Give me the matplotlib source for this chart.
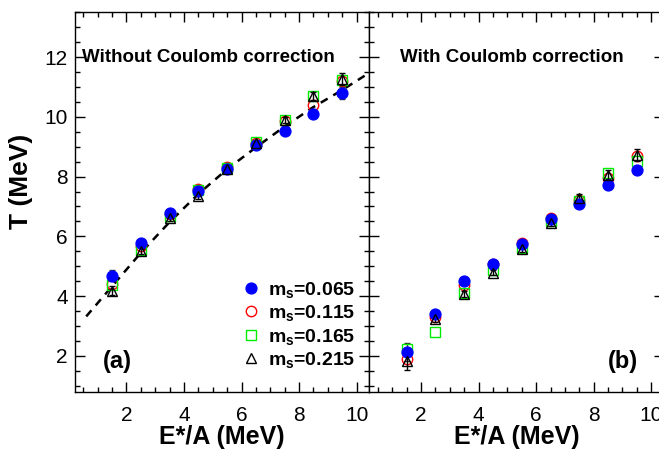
import numpy as np
import matplotlib
matplotlib.use('Agg')
import matplotlib.pyplot as plt
from matplotlib.ticker import MultipleLocator
from matplotlib.lines import Line2D

plt.rcParams['font.family'] = ['Liberation Sans', 'DejaVu Sans']
plt.rcParams['mathtext.fontset'] = 'custom'
plt.rcParams['mathtext.rm'] = 'Liberation Sans'
plt.rcParams['mathtext.bf'] = 'Liberation Sans:bold'

# excitation energy bins
ex = [1.5, 2.5, 3.5, 4.5, 5.5, 6.5, 7.5, 8.5, 9.5]
ms_labels = ['0.065', '0.115', '0.165', '0.215']

# (a) without Coulomb correction
t_a_065 = [4.68, 5.79, 6.79, 7.53, 8.25, 9.07, 9.51, 10.10, 10.79]
t_a_115 = [4.40, 5.68, 6.76, 7.57, 8.33, 9.12, 9.85, 10.40, 11.20]
t_a_165 = [4.37, 5.54, 6.68, 7.54, 8.30, 9.15, 9.90, 10.70, 11.23]
t_a_215 = [4.18, 5.51, 6.62, 7.34, 8.27, 9.13, 9.90, 10.70, 11.26]
err_a_065 = [0.18, 0.10, 0.10, 0.10, 0.10, 0.10, 0.10, 0.15, 0.20]
err_a_215 = [0.15, 0.10, 0.10, 0.10, 0.10, 0.10, 0.10, 0.12, 0.20]

# dashed curve in (a)
fit_x = [0.6, 1.5, 2.5, 3.5, 4.5, 5.5, 6.5, 7.5, 8.5, 9.5, 10.35]
fit_y = [3.32, 4.33, 5.45, 6.48, 7.42, 8.25, 8.98, 9.68, 10.33, 10.90, 11.42]

# (b) with Coulomb correction
t_b_065 = [2.12, 3.40, 4.51, 5.07, 5.73, 6.57, 7.07, 7.73, 8.23]
t_b_115 = [1.90, 3.29, 4.37, 5.07, 5.77, 6.60, 7.21, 7.96, 8.68]
t_b_165 = [2.23, 2.81, 4.12, 4.88, 5.62, 6.50, 7.20, 8.12, 8.51]
t_b_215 = [1.84, 3.23, 4.07, 4.79, 5.57, 6.46, 7.29, 8.07, 8.73]
err_b_065 = [0.30, 0.10, 0.10, 0.10, 0.10, 0.10, 0.10, 0.12, 0.12]
err_b_215 = [0.30, 0.10, 0.10, 0.10, 0.10, 0.10, 0.12, 0.15, 0.20]

W, H = 659, 453
fig = plt.figure(figsize=(6.59, 4.53), dpi=100)
x0, x1, yb, yt = 74.7, 369.3, 391.7, 12.3
pw = x1 - x0
axa = fig.add_axes([x0/W, 1-yb/H, pw/W, (yb-yt)/H])
axb = fig.add_axes([x1/W, 1-yb/H, pw/W, (yb-yt)/H])

def style(ax):
    ax.set_xlim(0.2, 10.44)
    ax.set_ylim(0.8, 13.5)
    ax.xaxis.set_major_locator(MultipleLocator(2))
    ax.xaxis.set_minor_locator(MultipleLocator(0.5))
    ax.yaxis.set_major_locator(MultipleLocator(2))
    ax.yaxis.set_minor_locator(MultipleLocator(0.5))
    ax.tick_params(which='both', direction='in', top=True, right=True, width=1)
    ax.tick_params(which='major', length=7.2, labelsize=15)
    ax.tick_params(axis='x', which='major', pad=10)
    ax.tick_params(axis='y', which='major', pad=5)
    ax.tick_params(which='minor', length=3.6)
    for s in ax.spines.values():
        s.set_linewidth(1)
    ax.set_xlabel('E*/A (MeV)', fontsize=18, fontweight='bold', labelpad=0)

def draw(ax, t1, t2, t3, t4, e1, e4):
    ax.errorbar(ex, t1, yerr=e1, fmt='o', color='#0000ff', ms=7.8, ecolor='#333333',
                elinewidth=1, capsize=2.5)
    ax.plot(ex, t2, 'o', mfc='none', mec='#ff0000', ms=7.5, mew=1)
    ax.plot(ex, t3, 's', mfc='none', mec='#00ee00', ms=7.2, mew=1)
    ax.errorbar(ex, t4, yerr=e4, fmt='^', mfc='none', mec='black', ms=7.5, mew=1,
                ecolor='black', elinewidth=1, capsize=2.5)

style(axa)
style(axb)
axb.set_yticklabels([])

axa.plot(fit_x, fit_y, color='black', lw=1.8, dashes=(3.2, 2.6), zorder=1)
draw(axa, t_a_065, t_a_115, t_a_165, t_a_215, err_a_065, err_a_215)
draw(axb, t_b_065, t_b_115, t_b_165, t_b_215, err_b_065, err_b_215)

axa.set_ylabel('T (MeV)', fontsize=19, fontweight='bold')
axa.yaxis.set_label_coords(-0.14, 0.555)

axa.text(0.025, 0.882, 'Without Coulomb correction', transform=axa.transAxes,
         fontsize=13.5, fontweight='bold', va='center')
axb.text(0.104, 0.882, 'With Coulomb correction', transform=axb.transAxes,
         fontsize=13.5, fontweight='bold', va='center')
axa.text(0.096, 0.079, '(a)', transform=axa.transAxes, fontsize=17,
         fontweight='bold', va='center')
axb.text(0.81, 0.079, '(b)', transform=axb.transAxes, fontsize=17,
         fontweight='bold', va='center')

handles = [
    Line2D([], [], ls='none', marker='o', color='#0000ff', ms=7.8),
    Line2D([], [], ls='none', marker='o', mfc='none', mec='#ff0000', ms=7.5, mew=1),
    Line2D([], [], ls='none', marker='s', mfc='none', mec='#00ee00', ms=7.2, mew=1),
    Line2D([], [], ls='none', marker='^', mfc='none', mec='black', ms=7.5, mew=1),
]
labels = [r'$\mathbf{m_s}$=' + m for m in ms_labels]
axa.legend(handles, labels, loc='lower right', bbox_to_anchor=(1.0, 0.021),
           frameon=False, handlelength=0.8, handletextpad=0.5, labelspacing=0.18,
           borderaxespad=0.3, prop={'size': 14, 'weight': 'bold'})

fig.savefig('out.png', dpi=100)
